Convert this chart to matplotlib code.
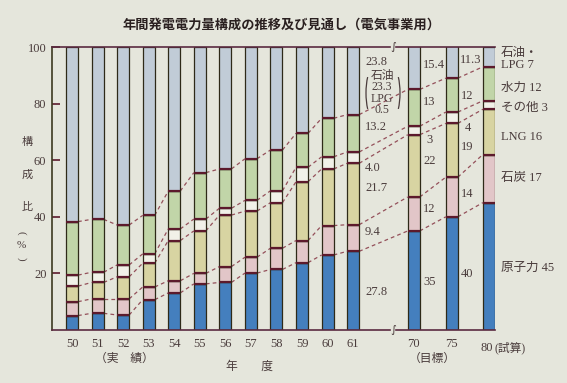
import matplotlib.pyplot as plt
from matplotlib.patches import Arc
import numpy as np

plt.rcParams['font.family'] = ['Liberation Serif', 'Noto Sans CJK JP']

# data (percent of annual generation)
years = ['50', '51', '52', '53', '54', '55', '56', '57', '58', '59', '60', '61', '70', '75', '80']
nuclear = [5.1, 5.9, 5.3, 10.7, 13.1, 16.3, 16.8, 20.1, 21.4, 23.8, 26.5, 27.8, 35, 40, 45]
coal = [4.9, 5.1, 5.7, 4.5, 4.3, 3.7, 5.6, 5.6, 7.5, 7.8, 10.4, 9.4, 12, 14, 17]
lng = [5.5, 5.8, 7.8, 8.4, 14.2, 15.0, 18.2, 16.3, 16.1, 20.8, 20.0, 21.7, 22, 19, 16]
other = [3.9, 3.6, 4.2, 3.3, 4.1, 4.2, 2.4, 3.8, 4.2, 5.1, 4.3, 4.0, 3, 4, 3]
hydro = [18.9, 18.7, 14.1, 13.6, 13.4, 16.4, 13.9, 14.7, 14.4, 12.0, 13.6, 13.2, 13, 12, 12]
oil = [61.7, 60.9, 62.9, 59.5, 50.9, 44.4, 43.1, 39.5, 36.4, 30.5, 25.2, 23.8, 15.4, 11.3, 7]

series = [nuclear, coal, lng, other, hydro, oil]
colors = ['#447fbe', '#e2c6c8', '#d8d4a2', '#f1f1e8', '#c1d5a8', '#c1ccd7']

bg = '#e5e6dc'
txt = '#4a3c3c'
maroon = '#5c1a2c'
dash = '#94505a'

pos = np.array(list(range(12)) + [13.37, 14.86, 16.31])
w = 0.47

fig = plt.figure(figsize=(5.67, 3.83), dpi=100, facecolor=bg)
ax = fig.add_axes([52/567, 1-330/383, 443/567, 283/383], facecolor=bg)

bottom = np.zeros(len(years))
cum = []
for vals, c in zip(series, colors):
    v = np.array(vals)
    ax.bar(pos, v, w, bottom=bottom, color=c, edgecolor='#2e2a18', linewidth=0.9, zorder=2)
    bottom = bottom + v
    cum.append(bottom.copy())

# segment boundaries and dashed connectors
for k in range(5):
    top = cum[k]
    ax.hlines(top, pos - w/2, pos + w/2, colors=maroon, linewidth=1.6, zorder=3)
    for i in range(len(pos) - 1):
        ax.plot([pos[i] + w/2, pos[i+1] - w/2], [top[i], top[i+1]],
                ls=(0, (3, 2.5)), color=dash, lw=0.9, zorder=1)

ax.set_xlim(-0.784, 16.55)
ax.set_ylim(0, 100)
for s in ['top', 'right', 'bottom']:
    ax.spines[s].set_visible(False)
ax.spines['left'].set_color('#3c3a20')
ax.spines['left'].set_linewidth(1.2)

# top and bottom lines with break marks
brk_l, brk_r = 12.43, 12.67
for y in [0, 100]:
    ax.plot([-0.784, brk_l], [y, y], color='#5a2a40', lw=1.2, clip_on=False, zorder=4)
    ax.plot([brk_r, 16.55], [y, y], color='#5a2a40', lw=1.2, clip_on=False, zorder=4)
    ax.text(12.55, y, '∫', family='DejaVu Sans', fontsize=8, color=txt,
            ha='center', va='center', zorder=5)

ax.set_yticks([20, 40, 60, 80, 100])
ax.tick_params(axis='y', direction='in', length=6, color=maroon, width=1.2,
               labelsize=9, labelcolor=txt, pad=4)
ax.set_xticks(pos[:-1])
ax.set_xticklabels(years[:-1])
ax.tick_params(axis='x', length=0, labelsize=9, labelcolor=txt, pad=6)
ax.text(pos[-1] - 0.1, -6.2, '80', fontsize=9, color=txt, ha='center', va='center')
ax.text(pos[-1] + 0.22, -6.2, '(試算)', fontsize=8.5, color=txt, ha='left', va='center')

fig.text(282/567, 1-25/383, '年間発電電力量構成の推移及び見通し（電気事業用）',
         fontsize=9.5, color='#2a2020', ha='center', va='center', weight='bold')

fig.text(124/567, 1-359/383, '（実　績）', fontsize=8.5, color=txt, ha='center', va='center')
fig.text(250/567, 1-367/383, '年　　度', fontsize=8.5, color=txt, ha='center', va='center')
fig.text(432/567, 1-359/383, '（目標）', fontsize=8.5, color=txt, ha='center', va='center')

for ch, yy in [('構', 142), ('成', 175), ('比', 207)]:
    fig.text(27/567, 1-yy/383, ch, fontsize=8, color=txt, ha='center', va='center')
fig.text(21/567, 1-233/383, '(', fontsize=8, color=txt, ha='center', va='center', rotation=-90)
fig.text(21/567, 1-246/383, '%', fontsize=8, color=txt, ha='center', va='center')
fig.text(21/567, 1-259/383, ')', fontsize=8, color=txt, ha='center', va='center', rotation=-90)

# value labels
def lab(x, y, s, size=9, **kw):
    fig.text(x/567, 1-y/383, s, fontsize=size, color=txt, va='center', **kw)

lab(365, 62, '23.8')
fig.text(382/567, 1-93/383, '石油\n23.3\nLPG\n0.5', fontsize=8.5, color=txt,
         ha='center', va='center', linespacing=0.9)
fig.add_artist(Arc((374/567, 1-93/383), 16/567, 52/383, theta1=105, theta2=255,
                   transform=fig.transFigure, color=txt, lw=0.9))
fig.add_artist(Arc((392/567, 1-93/383), 16/567, 52/383, theta1=-75, theta2=75,
                   transform=fig.transFigure, color=txt, lw=0.9))
lab(365, 127, '13.2')
lab(365, 168, '4.0')
lab(365, 188, '21.7')
lab(365, 232, '9.4')
lab(365, 292, '27.8')

lab(423, 65, '15.4')
lab(423, 102, '13')
lab(426, 140, '3')
lab(423, 161, '22')
lab(423, 209, '12')
lab(423, 282, '35')

lab(460, 60, '11.3')
lab(461, 96, '12')
lab(465, 128, '4')
lab(461, 147, '19')
lab(461, 194, '14')
lab(461, 274, '40')

lab(501, 53, '石油・')
lab(501, 65, 'LPG 7')
lab(501, 88, '水力 12')
lab(501, 108, 'その他 3')
lab(501, 137, 'LNG 16')
lab(501, 178, '石炭 17')
lab(501, 268, '原子力 45')

fig.savefig('out.png', dpi=100, facecolor=bg)
